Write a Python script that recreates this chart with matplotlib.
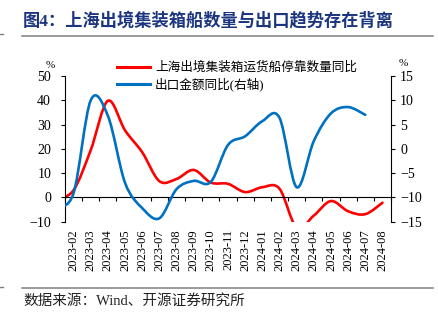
import numpy as np
import matplotlib
matplotlib.use("Agg")
import matplotlib.pyplot as plt
from matplotlib.path import Path
from matplotlib.patches import PathPatch
from matplotlib.lines import Line2D

FONTS = ["Liberation Serif", "Noto Sans CJK SC"]
plt.rcParams["font.family"] = FONTS

# monthly data, 2023-01 .. 2024-08 (2023-01 sits just left of the axis and is clipped)
months = ["2023-01", "2023-02", "2023-03", "2023-04", "2023-05", "2023-06", "2023-07",
          "2023-08", "2023-09", "2023-10", "2023-11", "2023-12", "2024-01", "2024-02",
          "2024-03", "2024-04", "2024-05", "2024-06", "2024-07", "2024-08"]
tick_labels = months[1:]
ships_yoy = [-1.0, 3.0, 19.5, 39.8, 27.6, 18.6, 6.7, 7.6, 11.3, 6.1, 5.6, 2.2, 4.2, 3.6,
             -12.5, -7.5, -1.5, -5.7, -6.9, -2.2]          # left axis, %
export_yoy = [-12.0, -9.1, 10.0, 6.8, -7.0, -12.2, -14.3, -8.3, -6.6, -6.8, 0.8, 2.6, 5.7, 6.4,
              -7.9, 1.6, 7.3, 8.6, 7.0, np.nan]            # right axis, %

title = "图4：上海出境集装箱船数量与出口趋势存在背离"
source = "数据来源：Wind、开源证券研究所"
name_ships = "上海出境集装箱运货船停靠数量同比"
name_export = "出口金额同比(右轴)"

RED = "#FF0000"
BLUE = "#0070C0"


def smooth_path(ax, xs, ys):
    """Smoothed line like Excel's: cubic Bezier through the points (display space)."""
    pts = ax.transData.transform(np.column_stack([xs, ys]))
    n = len(pts)
    verts, codes = [pts[0]], [Path.MOVETO]
    for i in range(n - 1):
        p0, p1 = pts[max(i - 1, 0)], pts[i]
        p2, p3 = pts[i + 1], pts[min(i + 2, n - 1)]
        verts += [p1 + (p2 - p0) / 6, p2 - (p3 - p1) / 6, p2]
        codes += [Path.CURVE4] * 3
    verts = ax.transData.inverted().transform(np.array(verts))
    return Path(verts, codes)


W, H = 439, 321
fig = plt.figure(figsize=(W / 100, H / 100), dpi=100)
ax = fig.add_axes([65 / W, 1 - 221.7 / H, (391 - 65) / W, (221.7 - 76) / H])
ax2 = ax.twinx()

x = np.arange(len(months)) - 1
ax.set_xlim(-0.5, len(tick_labels) - 0.5)
ax.set_ylim(-10, 50)
ax2.set_ylim(-15, 15)

# left axis
ax.set_yticks(range(-10, 51, 10))
ax.tick_params(axis="y", length=3, width=0.8, pad=7, labelsize=10)
# x axis drawn at zero, tick marks between months, labels at the bottom
ax.spines["bottom"].set_position(("data", 0))
ax.spines["top"].set_visible(False)
ax.spines["right"].set_visible(False)
ax.set_xticks(range(len(tick_labels)))
ax.set_xticklabels(tick_labels, rotation=90, fontsize=9)
ax.set_xticks(np.arange(-0.5, len(tick_labels), 1), minor=True)
ax.tick_params(axis="x", which="major", length=0, pad=23)
ax.tick_params(axis="x", which="minor", length=3, width=0.8, direction="out")

# right axis
ax2.set_yticks(range(-15, 16, 5))
ax2.tick_params(axis="y", length=3, width=0.8, pad=3.6, labelsize=10)
for s in ("top", "bottom", "left"):
    ax2.spines[s].set_visible(False)

fig.canvas.draw()
ax.add_patch(PathPatch(smooth_path(ax, x, ships_yoy), fill=False, ec=RED, lw=1.9,
                       capstyle="round", joinstyle="round"))
ok = ~np.isnan(export_yoy)
ax2.add_patch(PathPatch(smooth_path(ax2, x[ok], np.array(export_yoy)[ok]), fill=False,
                        ec=BLUE, lw=1.9, capstyle="round", joinstyle="round"))

handles = [Line2D([], [], color=RED, lw=2.2), Line2D([], [], color=BLUE, lw=2.2)]
ax2.legend(handles, [name_ships, name_export], loc="upper left",
           bbox_to_anchor=(117 / W, 1 - 61.5 / H), bbox_transform=fig.transFigure,
           frameon=False, fontsize=9.1, handlelength=2.6, handletextpad=0.4,
           labelspacing=0.3, borderpad=0, borderaxespad=0)

fig.text(50 / W, 1 - 65 / H, "%", fontsize=8, ha="center", va="center")
fig.text(403 / W, 1 - 63 / H, "%", fontsize=8, ha="center", va="center")

# header / footer
fig.text(23 / W, 1 - 20.5 / H, title, fontsize=12.4, fontweight="bold", color="#1c3580",
         ha="left", va="center")
fig.add_artist(Line2D([22.5 / W, 433 / W], [1 - 36 / H, 1 - 36 / H], color="#7f7f7f", lw=1.1))
fig.add_artist(Line2D([22.5 / W, 433 / W], [1 - 288 / H, 1 - 288 / H], color="#7f7f7f", lw=1.1))
fig.add_artist(Line2D([0, 2.5 / W], [1 - 34 / H, 1 - 34 / H], color="#7f7f7f", lw=1.0))
fig.add_artist(Line2D([0, 2.5 / W], [1 - 287 / H, 1 - 287 / H], color="#7f7f7f", lw=1.0))
fig.text(23 / W, 1 - 301 / H, source, fontsize=10.5, color="#222222", ha="left", va="center")

fig.savefig("out.png", dpi=100)
